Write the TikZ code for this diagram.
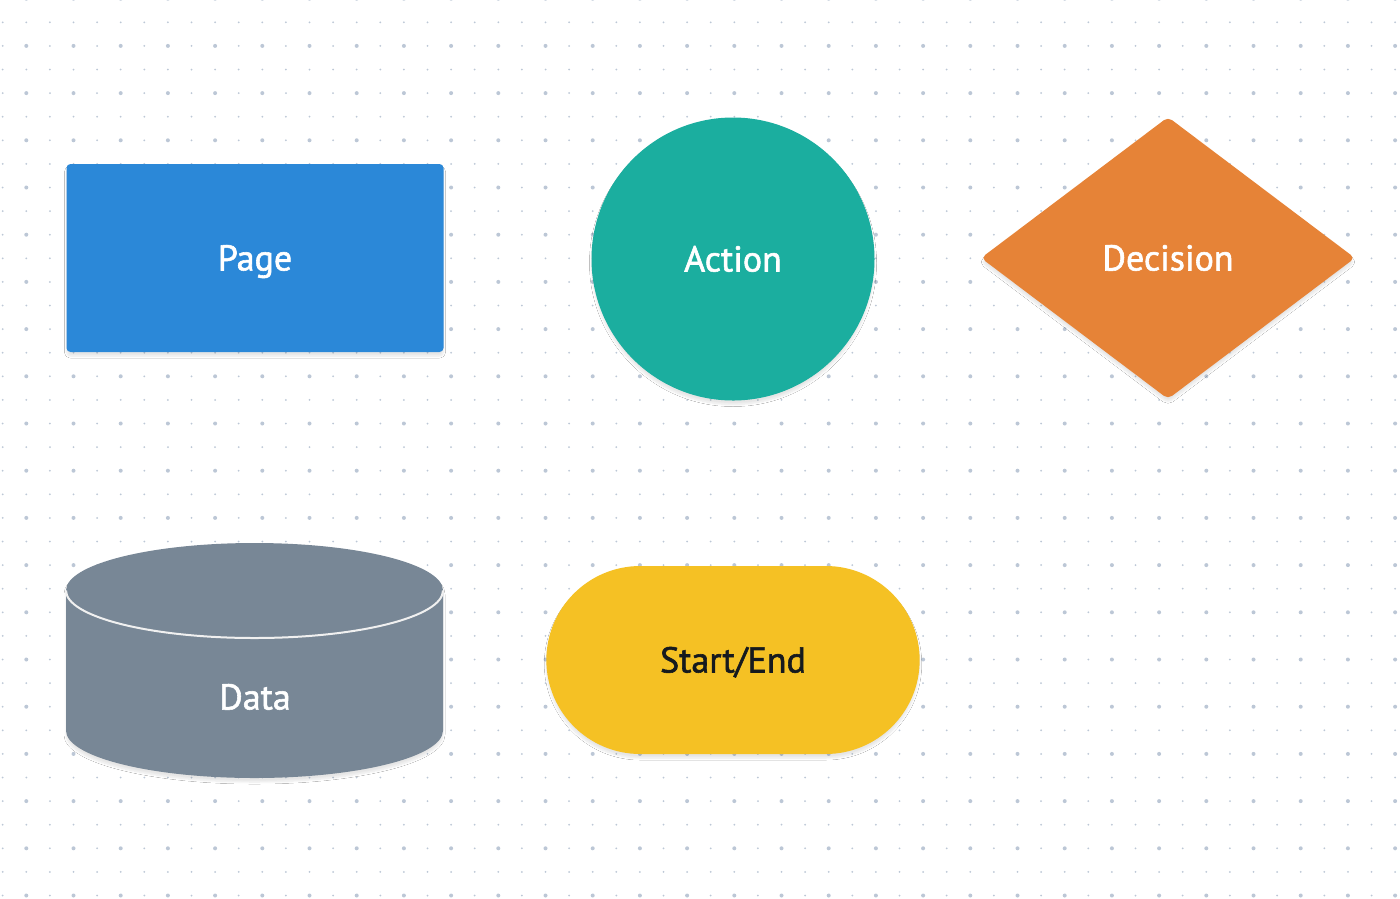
\documentclass[tikz,border=0pt]{standalone}
\usepackage{fontspec}
\setmainfont{PT Sans}
\newfontfamily\shapefont[FakeBold=1.6]{PT Sans}
\usetikzlibrary{shapes.geometric,shapes.misc,shadows.blur}
\definecolor{pageblue}{RGB}{43,136,216}
\definecolor{actionteal}{RGB}{27,174,159}
\definecolor{decisionorange}{RGB}{230,131,55}
\definecolor{datagray}{RGB}{120,135,150}
\definecolor{startyellow}{RGB}{245,193,36}
\definecolor{dotgray}{RGB}{188,199,214}
\definecolor{inkdark}{RGB}{22,26,30}
\begin{document}
\begin{tikzpicture}[x=1pt,y=-1pt,
    soft/.style={blur shadow={shadow xshift=0pt,shadow yshift=-4pt,shadow blur steps=8,shadow opacity=10}},
    label/.style={font=\shapefont\fontsize{36}{40}\selectfont,text=white,text height=25pt,text depth=0pt},
    pagebox/.style={soft,fill=pageblue,rectangle,rounded corners=4pt,minimum width=377pt,minimum height=188pt,label},
    actionball/.style={soft,fill=actionteal,circle,minimum size=283pt,label},
    decisionbox/.style={soft,fill=decisionorange,diamond,aspect=1.33,inner sep=0pt,rounded corners=5pt,minimum width=374pt,minimum height=282pt,label},
    startbox/.style={soft,fill=startyellow,rounded rectangle,minimum width=380pt,minimum height=188pt,label,text=inkdark}]
    \useasboundingbox[fill=white](0,0) rectangle (1400,898);
    % dot grid
    \foreach \i in {0,...,59}
        \foreach \j in {0,...,38}
            \fill[dotgray](2.7+23.6*\i,-1.3+23.6*\j) circle (1pt);
    \foreach \i in {1,3,...,59}
        \foreach \j in {0,2,...,38}
            \fill[dotgray](2.7+23.6*\i,-1.3+23.6*\j) circle (2pt);
    % shapes
    \node[pagebox] (page) at (255,258) {Page};
    \node[actionball] (action) at (733,259) {Action};
    \node[decisionbox] (decision) at (1168,258) {Decision};
    \node[startbox] (startend) at (733,660) {Start/End};
    \fill[soft,datagray](66,590.5)--(66,730.5) arc(180:0:188.5 and 47.5)--(443,590.5) arc(0:-180:188.5 and 47.5)--cycle;
    \draw[white!88!gray,line width=2pt](66,590.5) arc(180:0:188.5 and 47.5);
    \node[label] (data) at (255,697) {Data};
\end{tikzpicture}
\end{document}
